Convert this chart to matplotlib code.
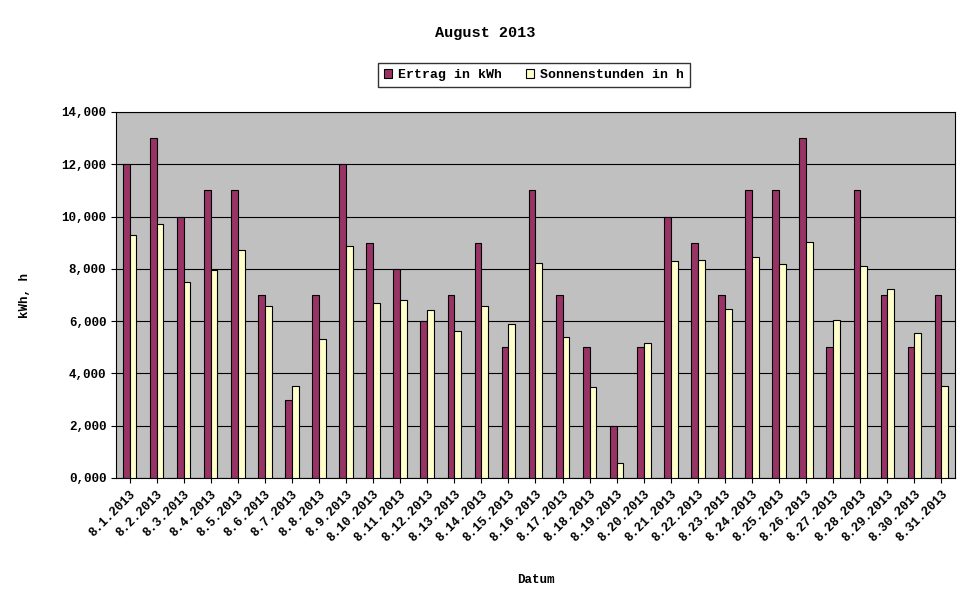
import matplotlib
matplotlib.use("Agg")
import matplotlib.pyplot as plt
import numpy as np
from matplotlib.ticker import FuncFormatter

dates = [f"8.{d}.2013" for d in range(1, 32)]
ertrag = [12,13,10,11,11,7,3,7,12,9,8,6,7,9,5,11,7,5,2,5,10,9,7,11,11,13,5,11,7,5,7]
sonne = [9.3,9.72,7.5,7.96,8.72,6.58,3.52,5.32,8.87,6.7,6.8,6.43,5.62,6.58,5.89,8.22,
         5.39,3.48,0.57,5.16,8.3,8.34,6.47,8.45,8.19,9.03,6.04,8.11,7.23,5.55,3.52]

plt.rcParams['font.family'] = ['Liberation Mono', 'DejaVu Sans Mono']
plt.rcParams['font.weight'] = 'bold'

fig = plt.figure(figsize=(9.7, 6.04), dpi=100)
ax = fig.add_axes([116/970, 1-478/604, (955-116)/970, (478-112)/604])
ax.set_facecolor('#C0C0C0')
x = np.arange(len(dates))
w = 0.25
ax.bar(x - w/2, ertrag, w, color='#993366', edgecolor='black', linewidth=0.8, label='Ertrag in kWh', zorder=3)
ax.bar(x + w/2, sonne, w, color='#FFFFCC', edgecolor='black', linewidth=0.8, label='Sonnenstunden in h', zorder=3)
ax.set_xlim(-0.5, len(dates) - 0.5)
ax.set_ylim(0, 14)
ax.set_yticks(range(0, 15, 2))
ax.yaxis.set_major_formatter(FuncFormatter(lambda v, p: f"{int(v)},000"))
ax.grid(axis='y', color='black', linewidth=0.8, zorder=1)
ax.set_xticks(x)
ax.set_xticklabels(dates, rotation=45, ha='right', rotation_mode='anchor', fontsize=9)
ax.tick_params(axis='y', labelsize=9)
ax.set_xlabel('Datum', fontsize=9, fontweight='bold', labelpad=22)
ax.set_ylabel('kWh, h', fontsize=9, fontweight='bold', labelpad=22)
fig.text(485/970, 1-33/604, 'August 2013', ha='center', va='center', fontsize=11, fontweight='bold')
fig.legend(loc='center', bbox_to_anchor=(534/970, 1-75/604), ncol=2, fontsize=9.5,
           frameon=True, fancybox=False, edgecolor='black', handlelength=0.6,
           handletextpad=0.5, columnspacing=1.8, borderpad=0.45)
fig.savefig('out.png', dpi=100)
